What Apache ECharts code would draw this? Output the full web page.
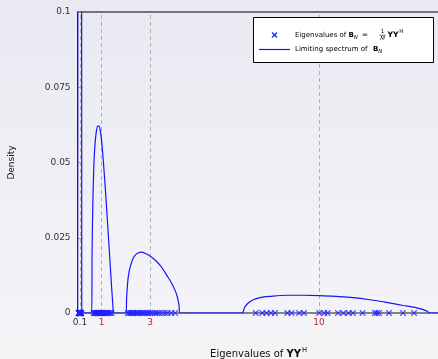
<!DOCTYPE html>
<html><head><meta charset="utf-8">
<script src="https://cdn.jsdelivr.net/npm/echarts@6/dist/echarts.min.js"></script>
<style>html,body{margin:0;padding:0;}#c{width:438px;height:359px;}</style>
</head><body><div id="c"></div>
<script>
// Limiting spectrum (x, density)
const densityX = [0, 0.012, 0.018, 0.06, 0.1, 0.15, 0.168, 0.172,
  0.583, 0.60, 0.63, 0.67, 0.72, 0.78, 0.84, 0.89, 0.95, 1.01, 1.08, 1.16, 1.24, 1.32, 1.39, 1.44, 1.47, 1.48,
  2.005, 2.033, 2.10, 2.20, 2.336, 2.516, 2.654, 2.861, 3.068, 3.275, 3.482, 3.69, 3.897, 4.035, 4.13, 4.20, 4.24,
  6.80, 6.93, 7.07, 7.28, 7.56, 7.97, 8.66, 9.35, 10.04, 10.73, 11.42, 12.11, 12.80, 13.49, 14.05, 14.46, 14.60, 15];
const densityY = [0, 0, 0.2, 0.35, 0.3, 0.2, 0.1, 0,
  0, 0.020, 0.036, 0.048, 0.056, 0.0605, 0.0621, 0.0621, 0.0600, 0.0560, 0.0490, 0.0400, 0.0300, 0.0200, 0.0110, 0.0050, 0.0015, 0,
  0, 0.0054, 0.0121, 0.0159, 0.0187, 0.0200, 0.0202, 0.0196, 0.0185, 0.0171, 0.0152, 0.0126, 0.0099, 0.0076, 0.0054, 0.0027, 0,
  0, 0.0020, 0.0033, 0.0044, 0.0051, 0.0055, 0.0059, 0.0059, 0.0058, 0.0055, 0.0051, 0.0044, 0.0035, 0.0025, 0.0017, 0.0007, 0, 0];
// Sample eigenvalues (plotted at density 0)
const eigCluster01 = [0.04, 0.048, 0.055, 0.06, 0.066, 0.07, 0.075, 0.079, 0.083, 0.087, 0.091, 0.095, 0.099, 0.103, 0.107, 0.111, 0.115, 0.119, 0.124, 0.128, 0.133, 0.139, 0.146, 0.155];
const eigCluster1 = [0.66, 0.69, 0.73, 0.75, 0.78, 0.80, 0.83, 0.85, 0.88, 0.90, 0.92, 0.95, 0.98, 1.00, 1.04, 1.06, 1.10, 1.13, 1.18, 1.21, 1.26, 1.30, 1.36, 1.41];
const eigCluster3 = [2.08, 2.14, 2.20, 2.25, 2.31, 2.37, 2.44, 2.50, 2.57, 2.65, 2.71, 2.79, 2.87, 2.94, 3.02, 3.10, 3.21, 3.29, 3.38, 3.50, 3.62, 3.73, 3.88, 4.04];
const eigCluster10 = [7.38, 7.65, 7.83, 8.01, 8.18, 8.69, 8.87, 9.18, 9.38, 10.01, 10.22, 10.36, 10.79, 11.01, 11.23, 11.41, 11.81, 12.32, 12.40, 12.49, 12.90, 13.48, 13.94];
// Ticks
const xTickValues = [0.1, 1, 3, 10];
const yTickLabels = ['0', '0.025', '0.05', '0.075', '0.1'];
// Legend texts
const legendEigWords = 'Eigenvalues of';
const legendLimWords = 'Limiting spectrum of';

const FONT = 'DejaVu Sans';
const LFS = 7;      // legend font size
const LSUB = 5.4;   // legend sub/sup size
const LYY = 7.6;    // bold YY size
const eigAll = [].concat(eigCluster01, eigCluster1, eigCluster3, eigCluster10);
const curve = densityX.map((x, i) => [x, densityY[i]]);
const xSym = 'path://M0,0L10,10M10,0L0,10';
const BLUE = '#1414ff';
const MBLUE = '#1f1fff';

// legend box geometry
const LB = {x: 253, y: 17, w: 180, h: 45};
const row1 = 35, row2 = 49, textX = 295, iconCX = 274.5, iconR = 2.5;

// text measuring for sequential placement of the math pieces
const ctx = document.createElement('canvas').getContext('2d');
function tw(t, size, bold, italic) {
  ctx.font = (italic ? 'italic ' : '') + (bold ? 'bold ' : '') + size + 'px "' + FONT + '"';
  return ctx.measureText(t).width;
}
const b1 = Math.max(346, textX + tw(legendEigWords + ' ', LFS));
const n1 = b1 + tw('B', LFS, true);
const eq1 = Math.max(362, n1 + tw('N', LSUB, false, true) + 3);
const fr1 = Math.max(382.5, eq1 + tw('=', LFS) + 6);
const yy1 = fr1 + 5;
const h1 = yy1 + tw('YY', LYY, true) + 0.8;
const b2 = Math.max(373, textX + tw(legendLimWords + ' ', LFS));
const n2 = b2 + tw('B', LFS, true);

function txt(s, x, y, o) {
  return Object.assign({type: 'text', x: x, y: y, z: 102,
    style: Object.assign({text: s, fontFamily: FONT, fontSize: LFS, fill: '#000', verticalAlign: 'middle'}, o || {})});
}

const chart = echarts.init(document.getElementById('c'), null, {renderer: 'canvas'});
chart.setOption({
  backgroundColor: {type: 'linear', x: 0, y: 0, x2: 0, y2: 1,
    colorStops: [{offset: 0, color: '#e9e9f2'}, {offset: 1, color: '#f5f5f8'}]},
  animation: false,
  textStyle: {fontFamily: FONT},
  grid: {left: 77.6, top: 12, width: 362, bottom: 46, outerBoundsMode: 'none', containLabel: false,
    show: true, borderColor: '#000', borderWidth: 1, backgroundColor: 'transparent'},
  xAxis: {
    type: 'value', min: 0, max: 15,
    name: 'Eigenvalues of {b|YY}{sup|H}', nameLocation: 'middle', nameGap: 34,
    nameTextStyle: {fontFamily: FONT, fontSize: 10, color: '#111',
      rich: {b: {fontFamily: FONT, fontSize: 10, fontWeight: 'bold', color: '#111'},
             sup: {fontFamily: FONT, fontSize: 6.8, color: '#111', padding: [0, 0, 7, 1]}}},
    axisLine: {lineStyle: {color: '#888', width: 1.5}},
    axisTick: {show: false},
    splitLine: {show: false},
    axisLabel: {
      customValues: xTickValues, margin: 5, fontSize: 9, fontFamily: FONT,
      formatter: v => (Math.abs(v - 0.1) < 1e-9 ? '{k|0.1}' : '{r|' + v + '}'),
      rich: {k: {color: '#333', fontSize: 9, fontFamily: FONT}, r: {color: '#c0262b', fontSize: 9, fontFamily: FONT}}
    }
  },
  yAxis: {
    type: 'value', min: 0, max: 0.1, interval: 0.025,
    name: 'Density', nameLocation: 'middle', nameGap: 61,
    nameTextStyle: {fontFamily: FONT, fontSize: 9, color: '#111'},
    axisLine: {show: true, lineStyle: {color: '#000', width: 1}},
    axisTick: {show: true, inside: true, length: 5, lineStyle: {color: '#999'}},
    splitLine: {show: false},
    axisLabel: {margin: 7, fontSize: 9, fontFamily: FONT, color: '#333',
      formatter: (v) => yTickLabels[Math.round(v / 0.025)]}
  },
  graphic: [
    {type: 'rect', shape: {x: LB.x + 0.5, y: LB.y + 0.5, width: LB.w, height: LB.h},
      style: {fill: '#fff', stroke: '#000', lineWidth: 1}, z: 100},
    {type: 'line', shape: {x1: iconCX - iconR, y1: row1 - iconR, x2: iconCX + iconR, y2: row1 + iconR},
      style: {stroke: MBLUE, lineWidth: 1.2}, z: 101},
    {type: 'line', shape: {x1: iconCX + iconR, y1: row1 - iconR, x2: iconCX - iconR, y2: row1 + iconR},
      style: {stroke: MBLUE, lineWidth: 1.2}, z: 101},
    {type: 'line', shape: {x1: 259, y1: row2 + 0.5, x2: 290, y2: row2 + 0.5}, style: {stroke: BLUE, lineWidth: 1.2}, z: 101},
    // row 1: Eigenvalues of B_N = (1/M) YY^H
    txt(legendEigWords, textX, row1),
    txt('B', b1, row1, {fontWeight: 'bold'}),
    txt('N', n1, row1 + 2.5, {fontSize: LSUB, fontStyle: 'italic'}),
    txt('=', eq1, row1),
    txt('1', fr1, row1 - 0.6, {fontSize: LSUB, align: 'center', verticalAlign: 'bottom'}),
    {type: 'line', shape: {x1: fr1 - 3, y1: row1 + 0.2, x2: fr1 + 3, y2: row1 + 0.2}, style: {stroke: '#000', lineWidth: 0.6}, z: 102},
    txt('M', fr1, row1 + 0.8, {fontSize: LSUB, fontStyle: 'italic', align: 'center', verticalAlign: 'top'}),
    txt('YY', yy1, row1, {fontWeight: 'bold', fontSize: LYY}),
    txt('H', h1, row1 - 3, {fontSize: LSUB}),
    // row 2: Limiting spectrum of B_N
    txt(legendLimWords, textX, row2),
    txt('B', b2, row2, {fontWeight: 'bold'}),
    txt('N', n2, row2 + 2.5, {fontSize: LSUB, fontStyle: 'italic'})
  ],
  series: [
    {
      type: 'line', name: 'guides', data: [], z: 1, silent: true,
      markLine: {silent: true, z: 1, symbol: ['none', 'none'], label: {show: false},
        lineStyle: {color: '#b0b0b0', type: [4, 3], width: 1},
        data: xTickValues.map(v => ({xAxis: v}))}
    },
    {
      type: 'scatter', name: 'Eigenvalues', data: eigAll.map(v => [v, 0]), symbol: xSym, symbolSize: 5.5, clip: false, z: 4,
      itemStyle: {color: 'rgba(0,0,0,0)', borderColor: MBLUE, borderWidth: 1.1}
    },
    {
      type: 'line', name: 'Limiting spectrum', data: curve, symbol: 'none', smooth: 0.3, z: 3,
      lineStyle: {color: BLUE, width: 1.2}, itemStyle: {color: BLUE}
    }
  ]
});
</script></body></html>
